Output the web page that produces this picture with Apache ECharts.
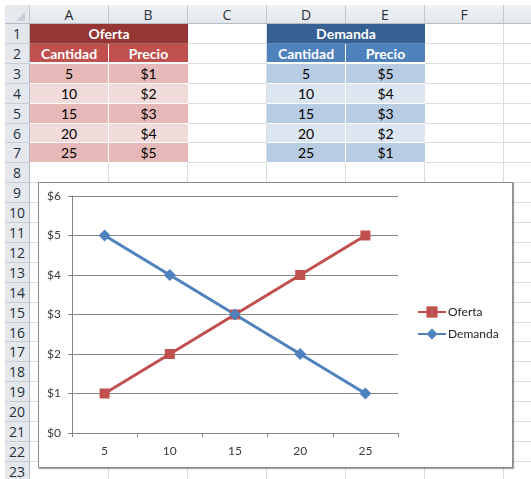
<!DOCTYPE html>
<html><head><meta charset="utf-8">
<script src="https://cdn.jsdelivr.net/npm/echarts@6/dist/echarts.min.js"></script>
<style>
body{margin:0;width:531px;height:479px;overflow:hidden;background:#fff;position:relative;font-family:Lato,'Open Sans',sans-serif}
.c{position:absolute;box-sizing:border-box;display:flex;align-items:center;justify-content:center;font-size:14px;color:#000;white-space:nowrap}
#box{position:absolute;left:38px;top:182px;width:475px;height:286px;box-sizing:border-box;background:#fff;border:1px solid #8a8a8a;box-shadow:1px 1px 1px rgba(0,0,0,0.35)}
</style></head><body>
<div id="sheet"></div>
<div id="box"></div>
<div id="chart" style="position:absolute;left:0;top:0;width:531px;height:479px"></div>
<script>
// ---- data ----
var columnLetters = ['A','B','C','D','E','F','G'];
var ofertaTitle = 'Oferta';
var demandaTitle = 'Demanda';
var headerCantidad = 'Cantidad';
var headerPrecio = 'Precio';
var ofertaCantidad = [5, 10, 15, 20, 25];
var ofertaPrecio = [1, 2, 3, 4, 5];
var demandaCantidad = [5, 10, 15, 20, 25];
var demandaPrecio = [5, 4, 3, 2, 1];
var categories = ['5', '10', '15', '20', '25'];
var yMin = 0, yMax = 6, yStep = 1;

// ---- spreadsheet ----
var sheet = document.getElementById('sheet');
var colX = [5, 30, 109, 188, 267, 346, 425, 504, 583];
function rowY(n){ return n === 0 ? 5 : Math.round(24 + 19.9 * (n - 1)); }
function cell(x, y, w, h, css, text){
  var d = document.createElement('div');
  d.className = 'c';
  d.style.left = x + 'px'; d.style.top = y + 'px';
  d.style.width = w + 'px'; d.style.height = h + 'px';
  for (var k in css) d.style[k] = css[k];
  if (text !== undefined) d.textContent = text;
  sheet.appendChild(d);
  return d;
}
// grid cells
for (var r = 1; r <= 23; r++) {
  for (var c = 1; c <= 7; c++) {
    cell(colX[c], rowY(r), colX[c+1]-colX[c], rowY(r+1)-rowY(r),
      {borderRight:'1px solid #dadcdd', borderBottom:'1px solid #dadcdd'});
  }
}
// column headers
cell(colX[0], rowY(0), colX[1]-colX[0], rowY(1)-rowY(0),
  {background:'#e6e9ee', borderRight:'1px solid #c2c8d0', borderBottom:'1px solid #b6bcc5'});
cell(colX[1]-14, rowY(1)-12, 10, 10, {width:'0', height:'0', borderLeft:'9px solid transparent', borderBottom:'9px solid #c9ced6'});
for (var c = 1; c <= 7; c++) {
  cell(colX[c], rowY(0), colX[c+1]-colX[c], rowY(1)-rowY(0),
    {background:'linear-gradient(#f1f3f6,#e3e7ec)', borderRight:'1px solid #c2c8d0', borderBottom:'1px solid #b6bcc5', fontSize:'14px', color:'#27313c', fontFamily:"'Open Sans',sans-serif"}, columnLetters[c-1]);
}
// row headers
for (var r = 1; r <= 23; r++) {
  cell(colX[0], rowY(r), colX[1]-colX[0], rowY(r+1)-rowY(r),
    {background:'#e4e8ed', borderRight:'1px solid #b6bcc5', borderBottom:'1px solid #c9ced6', fontSize:'14px', color:'#27313c', fontFamily:"'Open Sans',sans-serif"}, String(r));
}
// tables
function table(ci, title, qty, price, col){
  var x0 = colX[ci], x1 = colX[ci+1], x2 = colX[ci+2];
  cell(x0, rowY(1), x2-x0, rowY(2)-rowY(1),
    {background:col[0], color:'#fff', fontWeight:'bold', borderBottom:'1px solid rgba(255,255,255,0.25)'}, title);
  cell(x0, rowY(2), x1-x0, rowY(3)-rowY(2),
    {background:col[1], color:'#fff', fontWeight:'bold', borderRight:'1px solid #fff', borderBottom:'2px solid #fff'}, headerCantidad);
  cell(x1, rowY(2), x2-x1, rowY(3)-rowY(2),
    {background:col[1], color:'#fff', fontWeight:'bold', borderBottom:'2px solid #fff'}, headerPrecio);
  for (var i = 0; i < qty.length; i++) {
    var rr = 3 + i, bg = (i % 2 === 0) ? col[2] : col[3];
    cell(x0, rowY(rr), x1-x0, rowY(rr+1)-rowY(rr),
      {background:bg, borderRight:'1px solid #fff', borderBottom:'1px solid #fff'}, String(qty[i]));
    cell(x1, rowY(rr), x2-x1, rowY(rr+1)-rowY(rr),
      {background:bg, borderBottom:'1px solid #fff'}, '$' + price[i]);
  }
}
table(1, ofertaTitle, ofertaCantidad, ofertaPrecio, ['#963634', '#c0504d', '#e6b8b7', '#f2dcdb']);
table(4, demandaTitle, demandaCantidad, demandaPrecio, ['#366092', '#4f81bd', '#b8cce4', '#dce6f1']);

// ---- chart ----
var chart = echarts.init(document.getElementById('chart'), null, {renderer:'canvas'});
var axisColor = '#868686';
var font = "Lato, 'Open Sans', sans-serif";
chart.setOption({
  animation: false,
  backgroundColor: 'transparent',
  grid: {left: 72, top: 196, width: 326, height: 237, containLabel: false},
  legend: {
    orient: 'vertical', left: 417, top: 306, padding: 0, itemWidth: 28, itemHeight: 14, itemGap: 10,
    selectedMode: false,
    textStyle: {fontSize: 12, color: '#222', fontFamily: font, padding: [0, 0, 0, -3]},
    data: [ofertaTitle, demandaTitle]
  },
  xAxis: {
    type: 'category', data: categories, boundaryGap: true,
    axisLine: {lineStyle: {color: axisColor, width: 1}},
    axisTick: {show: true, length: 4, lineStyle: {color: axisColor}},
    axisLabel: {color: '#3a3a3a', fontSize: 12, margin: 12, fontFamily: font},
    splitLine: {show: false}
  },
  yAxis: {
    type: 'value', min: yMin, max: yMax, interval: yStep,
    axisLine: {show: true, lineStyle: {color: axisColor, width: 1}},
    axisTick: {show: true, length: 4, lineStyle: {color: axisColor}},
    axisLabel: {color: '#3a3a3a', fontSize: 12, margin: 11, fontFamily: font, formatter: function(v){ return '$' + v; }},
    splitLine: {show: true, lineStyle: {color: axisColor, width: 1}}
  },
  series: [
    {name: ofertaTitle, type: 'line', data: ofertaPrecio, color: '#c0504d',
     symbol: 'rect', symbolSize: 10, lineStyle: {width: 3}, itemStyle: {color: '#c0504d'},
     emphasis: {disabled: true}},
    {name: demandaTitle, type: 'line', data: demandaPrecio, color: '#4f81bd',
     symbol: 'diamond', symbolSize: 12, lineStyle: {width: 3}, itemStyle: {color: '#4f81bd'},
     emphasis: {disabled: true}}
  ]
});
</script>
</body></html>
